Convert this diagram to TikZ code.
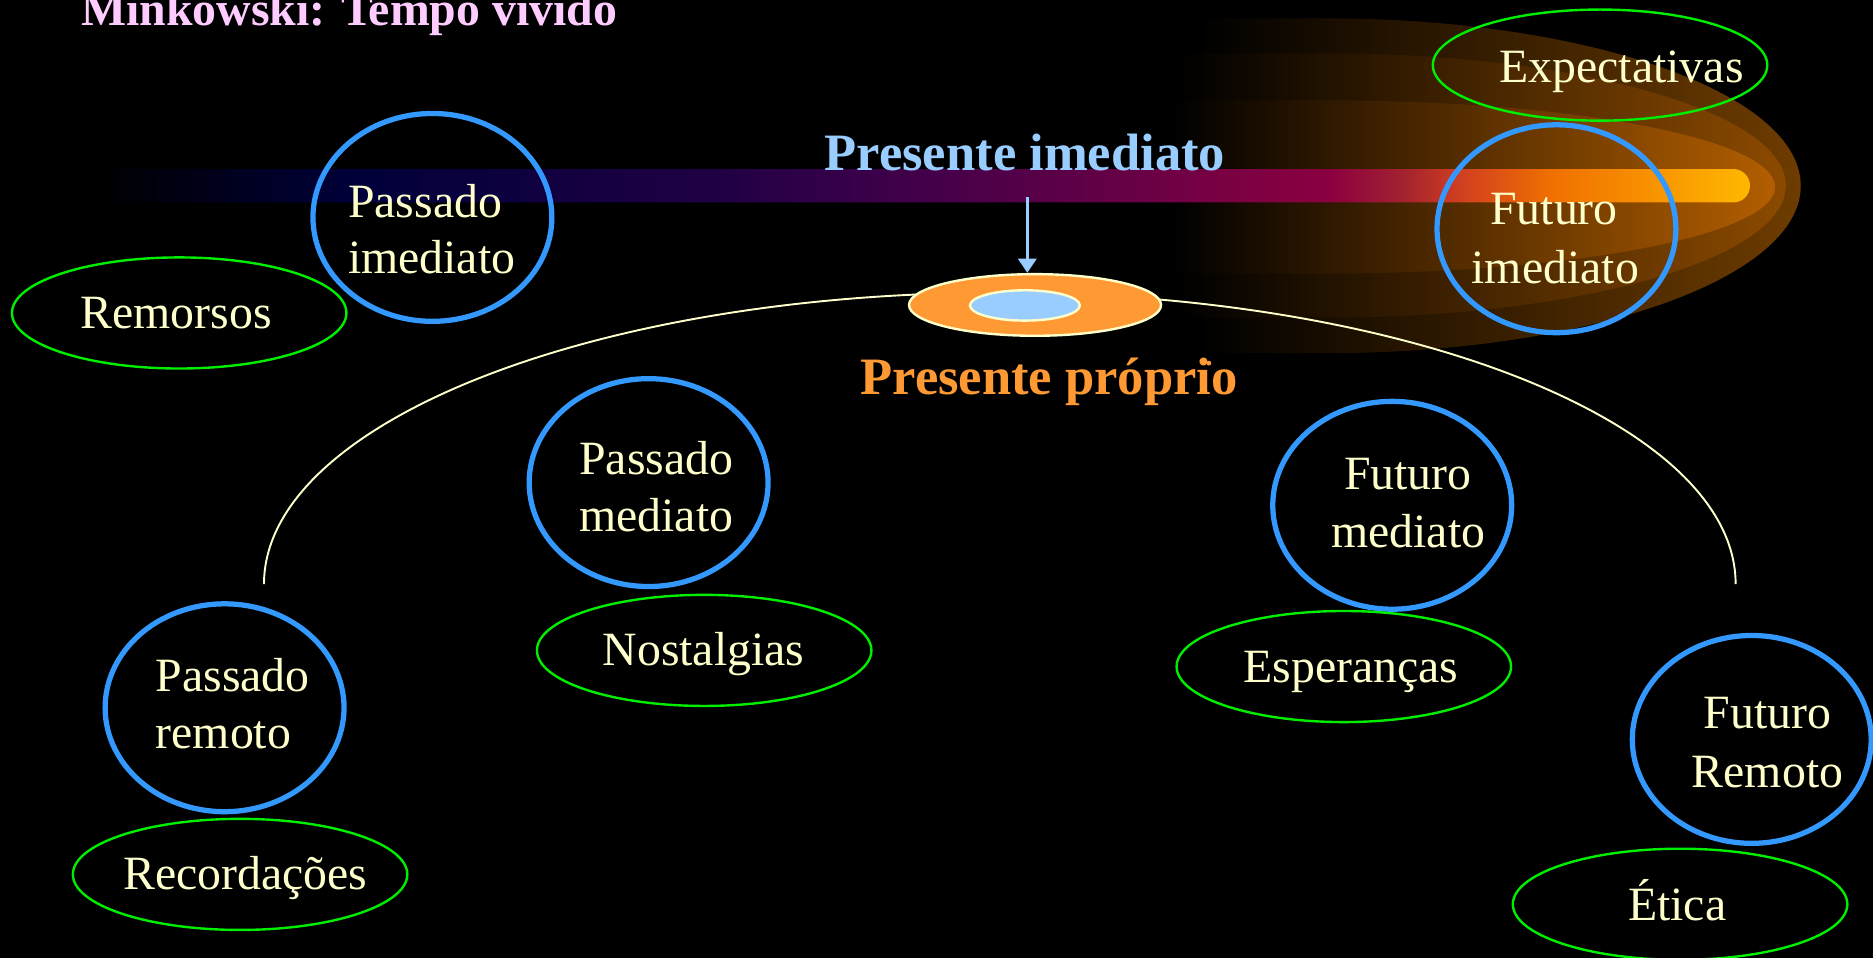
\documentclass[tikz,border=0pt]{standalone}
\usepackage{fontspec}
\setmainfont{Liberation Serif}
\usetikzlibrary{shapes.geometric,arrows.meta}
\definecolor{cream}{HTML}{FFFFCC}
\definecolor{ringblue}{HTML}{3399FF}
\definecolor{ringgreen}{HTML}{00EE00}
\definecolor{pinktitle}{HTML}{FFCCFF}
\definecolor{lightblue}{HTML}{99CCFF}
\definecolor{orangep}{HTML}{FF9933}
\definecolor{glowA}{HTML}{6E3C00}
\definecolor{glowB}{HTML}{8C4A00}
\definecolor{glowC}{HTML}{B35E00}
\pgfdeclarehorizontalshading{barshade}{100bp}{rgb(0bp)=(0,0,0); rgb(25bp)=(0,0,0); rgb(32.9bp)=(0,0,0.23); rgb(43.8bp)=(0.125,0,0.27); rgb(50.4bp)=(0.27,0,0.29); rgb(56.8bp)=(0.42,0,0.27); rgb(62.3bp)=(0.545,0,0.25); rgb(64.4bp)=(0.63,0.125,0.19); rgb(66.3bp)=(0.82,0.25,0.125); rgb(69bp)=(0.94,0.44,0); rgb(71.7bp)=(0.97,0.56,0); rgb(75bp)=(1,0.72,0); rgb(100bp)=(1,0.72,0)}
\tikzset{
  cr/.style={text=cream, font=\fontsize{20pt}{24pt}\selectfont, inner sep=0pt},
  bigbold/.style={font=\bfseries\fontsize{22pt}{26pt}\selectfont, inner sep=0pt},
  bluerim/.style={ellipse, draw=ringblue, line width=2.2pt, minimum width=100pt, minimum height=87pt, inner sep=0pt},
  greenrim/.style={ellipse, draw=ringgreen, line width=1pt, minimum width=140pt, minimum height=46.5pt, inner sep=0pt},
  arrowsty/.style={draw=lightblue, line width=1.5pt, -{Triangle[length=6pt,width=7.5pt]}},
  arcsty/.style={draw=cream, line width=0.8pt}
}
\begin{document}
\begin{tikzpicture}[x=0.5pt,y=0.5pt]
% background and bounding box
\fill[black] (0,0) rectangle (1568,-802);
\useasboundingbox (0,0) rectangle (1568,-802);

% glow (comet) layers
\shade[left color=black, right color=glowA] (1003.7,-15.4) -- (1110,-15.4) arc[start angle=90,end angle=-90,x radius=397.5,y radius=140.15] -- (1003.7,-295.7) -- cycle;
\shade[left color=black, right color=glowB] (989,-44.6) -- (1110,-44.6) arc[start angle=90,end angle=-90,x radius=385,y radius=110.7] -- (989,-266) -- cycle;
\shade[left color=black, right color=glowC] (983.5,-84) -- (1110,-84) arc[start angle=90,end angle=-90,x radius=376,y radius=72.5] -- (983.5,-229) -- cycle;

% time bar
\shade[shading=barshade] (80,-141.5) -- (1451,-141.5) arc[start angle=90,end angle=-90,radius=14] -- (80,-169.5) -- cycle;

% big arc
\draw[arcsty] (221,-489) arc[start angle=180,end angle=0,x radius=616,y radius=244];

% present
\node[ellipse, fill=orangep, draw=cream, line width=1pt, minimum width=105.5pt, minimum height=25.8pt, inner sep=0pt] (pp) at (866.5,-255.3) {};
\node[ellipse, fill=lightblue, draw=cream, line width=1pt, minimum width=46pt, minimum height=12.7pt, inner sep=0pt] (ppin) at (858,-255.7) {};
\coordinate (arrtop) at (860,-165);
\draw[arrowsty] (arrtop) -- (arrtop |- pp.north);
\fill[orangep] (1012,-304) circle[radius=2];

% titles
\node[text=pinktitle, font=\bfseries\fontsize{20pt}{24pt}\selectfont, inner sep=0pt, anchor=base west] (title) at (67.5,-21) {Minkowski: Tempo vivido};
\node[bigbold, text=lightblue, anchor=base west] (presimed) at (690,-143) {Presente imediato};
\node[bigbold, text=orangep, anchor=base west] (presprop) at (720,-330) {Presente próprio};

% blue ellipses
\node[bluerim] (PI) at (362,-182) {};
\node[bluerim] (FI) at (1303,-191.5) {};
\node[bluerim] (PM) at (543,-404) {};
\node[bluerim] (FM) at (1165.5,-423) {};
\node[bluerim] (PR) at (188,-592.5) {};
\node[bluerim] (FR) at (1466.5,-619) {};

% green ellipses
\node[greenrim] (Rem) at (150,-262) {};
\node[greenrim] (Exp) at (1339.5,-54.5) {};
\node[greenrim] (Nos) at (589.5,-544.5) {};
\node[greenrim] (Esp) at (1125,-558) {};
\node[greenrim] (Rec) at (201,-732) {};
\node[greenrim] (Eti) at (1406.5,-757) {};

% texts
\node[cr, anchor=base west] (tPIa) at (291,-182) {Passado};
\node[cr, anchor=base west] (tPIb) at (291,-229) {imediato};
\node[cr, anchor=base] (tRem) at (147.5,-275) {Remorsos};
\node[cr, anchor=base west] (tPMa) at (484.5,-397) {Passado};
\node[cr, anchor=base west] (tPMb) at (484.5,-445) {mediato};
\node[cr, anchor=base] (tNos) at (589,-557) {Nostalgias};
\node[cr, anchor=base] (tFMa) at (1178.5,-410) {Futuro};
\node[cr, anchor=base] (tFMb) at (1179,-458) {mediato};
\node[cr, anchor=base] (tEsp) at (1131,-571) {Esperanças};
\node[cr, anchor=base west] (tPRa) at (130,-579) {Passado};
\node[cr, anchor=base west] (tPRb) at (130,-627) {remoto};
\node[cr, anchor=base] (tRec) at (205.5,-745) {Recordações};
\node[cr, anchor=base] (tFRa) at (1479.5,-610) {Futuro};
\node[cr, anchor=base] (tFRb) at (1479.7,-659) {Remoto};
\node[cr, anchor=base] (tEti) at (1404,-771) {Ética};
\node[cr, anchor=base] (tExp) at (1357.5,-69) {Expectativas};
\node[cr, anchor=base] (tFIa) at (1301,-188) {Futuro};
\node[cr, anchor=base] (tFIb) at (1302,-237) {imediato};
\end{tikzpicture}
\end{document}
